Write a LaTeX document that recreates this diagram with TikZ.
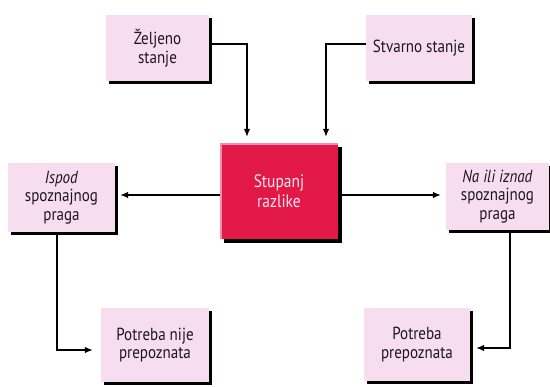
\documentclass[tikz,border=0pt]{standalone}
\usepackage{fontspec}
\setmainfont[FakeStretch=0.86]{PT Sans}
\usetikzlibrary{arrows.meta}
\definecolor{boxpink}{RGB}{246,222,240}
\definecolor{boxred}{RGB}{226,24,72}
\definecolor{bevelcol}{RGB}{242,140,170}
\definecolor{txtdark}{RGB}{30,22,30}
\definecolor{txtlight}{RGB}{252,232,238}
\begin{document}
\begin{tikzpicture}[x=1pt,y=-1pt,
  pbox/.style={rectangle, fill=boxpink, inner sep=0pt, align=center,
    font=\fontsize{17.5}{18.5}\selectfont, text=txtdark},
  rbox/.style={rectangle, fill=boxred, inner sep=0pt, align=center,
    font=\fontsize{18}{19.5}\selectfont, text=txtlight},
  sbox/.style={rectangle, fill=black, draw=none, inner sep=0pt},
  shadowline/.style={draw=black, line width=3.5pt, line cap=butt, line join=miter},
  arr/.style={draw=black, line width=1.1pt, -{Latex[length=8pt,width=6.5pt]}, shorten >=5pt}
]
\fill[white] (0,0) rectangle (550,387);
\useasboundingbox (0,0) rectangle (550,387);

% shadow rectangles behind the boxes, offset right and down
\node[sbox, minimum width=103pt, minimum height=66pt] (zelS) at (160.5,51) {};
\node[sbox, minimum width=106pt, minimum height=66pt] (stvS) at (422,51) {};
\node[sbox, minimum width=118pt, minimum height=96pt] (cenS) at (283,195) {};
\node[sbox, minimum width=107pt, minimum height=69pt] (ispS) at (64.5,200.5) {};
\node[sbox, minimum width=103pt, minimum height=67pt] (naiS) at (500.5,199.5) {};
\node[sbox, minimum width=108pt, minimum height=74pt] (pnpS) at (158,348) {};
\node[sbox, minimum width=106pt, minimum height=73pt] (ppS) at (420,347.5) {};

\node[pbox, minimum width=103pt, minimum height=66pt] (zel) at (157.5,48) {Željeno\\stanje};
\node[pbox, minimum width=106pt, minimum height=66pt] (stv) at (419,48) {Stvarno stanje};
\node[rbox, minimum width=118pt, minimum height=96pt] (cen) at (279,191) {Stupanj\\razlike};
\node[pbox, minimum width=107pt, minimum height=69pt] (isp) at (61.5,197.5) {\textit{Ispod}\\spoznajnog\\praga};
\node[pbox, minimum width=103pt, minimum height=67pt] (nai) at (497.5,196.5) {\textit{Na ili iznad}\\spoznajnog\\praga};
\node[pbox, minimum width=108pt, minimum height=74pt] (pnp) at (155,345) {Potreba nije\\prepoznata};
\node[pbox, minimum width=106pt, minimum height=73pt] (pp) at (417,344.5) {Potreba\\prepoznata};

% shadow edges as thick strokes along the right and bottom sides
\draw[shadowline] ([xshift=1.5pt,yshift=-4pt]zel.north east) -- ([xshift=1.5pt,yshift=-1.5pt]zel.south east) -- ([xshift=4pt,yshift=-1.5pt]zel.south west);
\draw[shadowline] ([xshift=1.5pt,yshift=-4pt]stv.north east) -- ([xshift=1.5pt,yshift=-1.5pt]stv.south east) -- ([xshift=4pt,yshift=-1.5pt]stv.south west);
\draw[shadowline] ([xshift=1.5pt,yshift=-4pt]isp.north east) -- ([xshift=1.5pt,yshift=-1.5pt]isp.south east) -- ([xshift=4pt,yshift=-1.5pt]isp.south west);
\draw[shadowline] ([xshift=1.5pt,yshift=-4pt]nai.north east) -- ([xshift=1.5pt,yshift=-1.5pt]nai.south east) -- ([xshift=4pt,yshift=-1.5pt]nai.south west);
\draw[shadowline] ([xshift=1.5pt,yshift=-4pt]pnp.north east) -- ([xshift=1.5pt,yshift=-1.5pt]pnp.south east) -- ([xshift=4pt,yshift=-1.5pt]pnp.south west);
\draw[shadowline] ([xshift=1.5pt,yshift=-4pt]pp.north east) -- ([xshift=1.5pt,yshift=-1.5pt]pp.south east) -- ([xshift=4pt,yshift=-1.5pt]pp.south west);
\draw[shadowline, line width=4pt] ([xshift=2pt,yshift=-5pt]cen.north east) -- ([xshift=2pt,yshift=-2pt]cen.south east) -- ([xshift=5pt,yshift=-2pt]cen.south west);

% bevel on the red box
\draw[bevelcol, line width=2pt] ([xshift=1pt]cen.south west) -- ([xshift=1pt,yshift=-1pt]cen.north west) -- ([yshift=-1pt]cen.north east);

\coordinate (zs) at ([yshift=4pt]zel.east);
\coordinate (zt) at ([xshift=-32pt]cen.north);
\coordinate (ss) at ([yshift=4pt]stv.west);
\coordinate (st) at ([xshift=47pt]cen.north);
\coordinate (cl) at ([yshift=-4pt]cen.west);
\coordinate (cr) at ([yshift=-4pt]cen.east);
\coordinate (is) at ([xshift=-4.5pt]isp.south);
\coordinate (pt) at ([yshift=-5pt]pnp.west);
\coordinate (ns) at ([xshift=12.5pt]nai.south);
\coordinate (qt) at ([yshift=-3.5pt]pp.east);

\draw[arr, shorten >=6pt] (zs) -| (zt);
\draw[arr, shorten >=6pt] (ss) -| (st);
\draw[arr] (cl) -- (cl -| isp.east);
\draw[arr] (cr) -- (cr -| nai.west);
\draw[arr, shorten >=8pt] (is) |- (pt);
\draw[arr, shorten >=6pt] (ns) |- (qt);
\end{tikzpicture}
\end{document}
